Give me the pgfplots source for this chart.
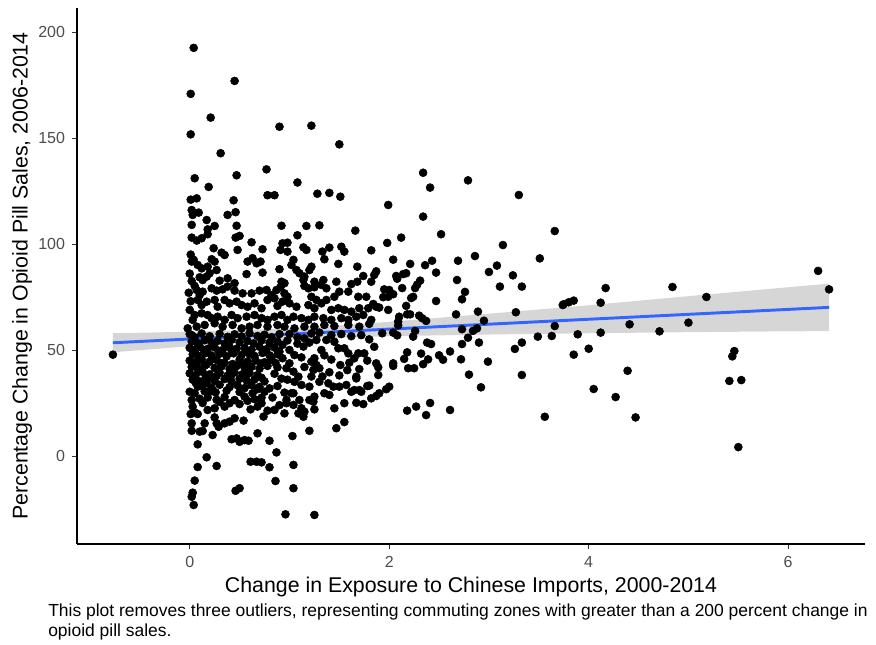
\documentclass[border=0pt]{standalone}
\usepackage{pgfplots}
\pgfplotsset{compat=1.18}
\usepackage{fontspec}
\setmainfont{Liberation Sans}
\definecolor{smoothblue}{HTML}{3366FF}
\definecolor{tickgray}{HTML}{4D4D4D}
\definecolor{bandgray}{HTML}{999999}
\pgfplotstableread{
x y
0.04 192.5
0.45 176.9
0.01 170.8
0.21 159.6
0.90 155.3
1.22 155.8
0.01 151.7
1.50 147.0
0.31 142.8
0.77 135.2
0.05 131.0
0.47 132.4
1.08 129.0
0.19 126.9
0.01 120.9
0.07 121.5
0.44 120.6
0.78 123.0
0.85 123.0
1.28 123.7
1.40 124.1
1.51 122.3
2.34 133.6
2.41 126.6
2.79 130.0
3.30 123.1
1.99 118.4
3.75 71.6
3.80 72.5
3.85 73.3
4.17 79.2
4.12 72.3
4.84 79.7
5.18 75.0
6.30 87.3
6.41 78.6
3.89 57.4
4.12 58.2
4.41 62.1
4.71 58.8
5.00 62.9
3.85 47.8
4.00 50.6
5.46 49.5
5.44 47.0
4.39 40.2
5.41 35.4
5.53 35.8
4.05 31.6
4.27 27.8
4.47 18.2
5.50 4.2
-0.77 47.8
2.34 112.9
3.66 106.1
2.52 104.6
2.12 103.0
1.98 100.5
3.14 99.5
1.82 97.0
2.86 94.3
3.51 93.2
2.04 92.6
2.43 92.1
2.36 90.0
2.69 92.1
2.21 90.6
3.08 89.8
3.00 86.8
2.47 86.5
3.24 85.2
2.17 86.2
2.14 85.8
2.07 84.9
1.87 87.1
1.85 85.4
1.82 82.2
2.68 83.0
2.31 82.7
2.28 80.8
2.26 79.2
3.11 79.9
3.33 79.9
2.08 83.6
2.13 79.2
1.95 78.6
2.00 78.3
2.04 76.3
1.94 74.9
1.99 75.1
2.76 77.4
2.73 73.9
2.24 75.1
2.22 74.5
2.47 73.1
1.84 71.7
1.87 70.4
1.90 70.0
2.17 70.8
3.74 71.2
1.99 68.9
2.89 68.1
3.27 67.8
2.18 66.8
2.21 66.8
2.67 66.8
2.30 66.2
2.33 65.0
2.37 63.7
2.10 65.7
2.09 63.4
1.82 64.2
2.95 63.8
3.66 61.3
2.09 61.6
2.26 59.0
2.24 56.3
2.73 59.8
2.84 59.0
2.88 60.2
1.93 57.9
2.04 58.2
2.08 56.9
3.49 56.3
3.63 56.6
2.79 55.8
2.38 53.5
2.42 52.8
2.73 52.8
2.90 53.5
3.33 53.5
3.26 50.5
2.18 48.9
2.32 48.3
2.61 49.3
2.15 45.8
2.39 45.6
2.50 47.5
2.54 45.4
2.72 45.6
2.99 44.5
1.87 43.7
2.04 43.7
2.34 43.3
1.89 41.8
1.89 38.2
2.04 42.5
2.19 41.4
2.25 41.4
2.80 38.4
3.33 38.2
2.92 32.4
2.00 32.7
1.97 31.5
1.90 29.6
1.87 28.3
1.82 27.2
1.80 33.2
2.18 21.4
2.27 23.3
2.41 25.0
2.37 19.3
2.61 21.7
3.56 18.5
0.04 -23.1
0.02 -19.2
0.03 -17.3
0.05 -11.6
0.08 -5.2
0.17 -0.6
0.27 -4.7
0.08 5.5
0.46 -16.4
0.50 -15.2
0.61 -2.7
0.67 -2.7
0.72 -3.0
0.80 -5.3
0.87 1.7
0.86 -11.8
1.04 -4.2
1.04 -15.2
0.96 -27.5
1.25 -27.8
0.80 7.2
0.68 10.7
1.03 9.4
1.20 11.9
1.47 13.1
1.55 16.0
0.42 7.9
0.47 8.3
0.50 6.7
0.55 7.5
0.59 7.2
0.23 9.9
0.02 11.9
0.10 11.5
0.13 11.8
0.02 15.4
0.15 15.4
0.27 15.4
0.29 13.8
0.35 15.4
0.40 16.2
0.45 17.8
0.54 16.7
0.74 18.6
0.25 18.2
0.01 19.8
0.05 20.6
0.08 19.8
1.51 42.9
1.67 37.4
1.57 33.5
1.65 31.1
1.72 30.3
1.78 33.0
1.67 25.1
1.74 24.5
1.45 22.5
1.25 22.0
1.24 25.6
1.15 20.9
1.09 20.1
1.12 22.5
0.85 21.7
0.78 21.4
0.97 26.4
1.02 29.6
0.95 29.9
0.61 22.0
0.68 23.3
0.72 24.9
0.55 28.0
0.63 29.6
0.75 30.3
0.80 31.9
0.45 26.4
0.40 24.9
0.35 23.3
0.18 21.7
0.25 22.5
0.03 23.3
0.02 26.4
0.05 29.6
0.00 30.3
0.08 32.7
0.17 34.3
0.20 30.3
0.93 52.4
1.00 50.0
1.05 47.6
1.14 51.6
1.15 55.5
1.27 54.7
1.32 50.0
1.37 54.7
1.45 53.9
1.49 50.8
1.55 50.8
1.59 48.4
1.65 46.1
1.69 48.4
1.75 48.4
1.25 46.1
1.22 44.5
1.27 42.9
1.30 41.4
1.24 40.6
0.93 46.1
0.97 41.4
1.04 39.8
1.00 43.7
1.09 37.4
1.05 35.0
1.12 33.5
1.20 32.7
1.30 35.0
1.39 34.3
1.44 32.7
1.50 32.7
1.67 36.6
1.62 30.3
1.70 31.1
1.35 29.6
1.40 28.8
1.25 28.0
1.04 29.6
0.97 24.9
1.04 24.1
1.10 26.4
1.20 26.4
0.95 20.1
1.14 18.5
1.55 24.9
0.02 116.0
0.09 114.8
0.03 113.7
0.38 113.7
0.46 115.0
0.17 111.3
0.02 109.0
0.25 108.5
0.18 106.9
0.47 108.6
0.92 108.6
1.17 108.5
1.30 108.8
1.66 106.3
0.18 104.6
0.02 103.0
0.07 101.6
0.12 102.7
0.46 103.0
0.50 103.8
1.08 104.1
0.62 100.8
0.93 100.3
0.98 100.6
0.24 98.0
0.48 97.2
0.73 97.5
0.91 97.2
0.98 96.4
1.14 98.4
1.17 97.2
1.40 98.3
1.33 96.4
1.52 98.7
1.55 96.4
0.32 95.9
0.35 94.8
1.35 92.8
0.02 91.7
0.04 92.5
0.22 92.8
0.25 91.7
0.58 91.7
0.63 93.3
0.67 90.9
0.71 91.7
1.04 92.5
1.49 90.6
0.08 90.1
0.12 88.5
0.18 89.3
0.27 87.7
0.20 86.2
0.17 84.6
0.90 88.1
1.02 90.1
1.07 87.7
1.10 86.2
1.15 84.6
1.20 87.7
1.22 89.3
1.68 89.3
0.57 85.8
0.73 86.5
0.10 84.3
0.13 83.0
0.30 82.7
0.38 83.8
0.45 81.5
0.92 82.2
0.95 81.5
1.14 83.0
1.25 82.2
1.34 83.0
1.47 82.2
1.62 81.1
1.68 82.2
1.74 84.9
0.05 80.2
0.07 78.3
0.10 75.9
0.13 77.5
0.22 79.1
0.27 78.0
0.33 78.6
0.38 79.9
0.45 78.0
0.53 76.7
0.62 76.7
0.70 78.0
0.77 78.3
0.82 75.9
0.87 78.3
0.91 79.6
0.95 76.7
0.98 75.1
1.15 80.2
1.19 79.1
1.25 79.6
1.32 80.7
1.37 79.1
1.45 75.1
1.50 77.5
1.59 77.5
1.69 75.1
1.77 75.1
1.22 75.1
1.27 73.6
1.32 72.0
1.37 73.6
0.08 73.6
0.12 71.2
0.17 72.8
0.25 73.6
0.28 70.4
0.35 73.6
0.40 72.0
0.47 72.8
0.52 71.2
0.58 70.4
0.65 72.0
0.72 69.7
0.78 73.6
0.85 74.4
0.88 70.8
0.93 72.8
1.00 72.0
1.07 70.4
1.19 71.2
1.25 69.7
1.42 68.9
1.49 69.7
1.55 68.9
1.62 68.1
1.70 69.7
1.79 69.7
0.00 68.9
0.05 66.5
0.03 64.2
0.12 67.3
0.18 66.5
0.22 65.0
0.28 65.7
0.35 64.2
0.42 66.5
0.48 65.0
0.57 65.7
0.65 66.5
0.72 65.0
0.78 64.2
0.85 65.7
0.92 66.5
0.98 64.2
1.04 65.7
1.12 65.0
1.19 64.2
1.25 65.7
1.34 65.0
1.42 64.2
1.52 65.0
1.59 64.2
1.67 65.7
1.74 66.5
-0.02 60.2
0.07 61.0
0.15 61.8
0.25 62.6
0.33 61.0
0.43 61.8
0.52 60.2
0.60 61.0
0.68 61.8
0.78 61.0
0.88 61.8
0.95 61.0
1.05 60.2
1.15 61.0
1.25 61.0
1.35 61.8
1.45 61.3
1.59 61.8
1.70 61.0
1.80 62.3
0.01 95.0
0.00 86.0
0.02 82.5
-0.01 77.0
0.01 73.0
0.02 57.0
0.00 57.5
0.05 56.0
0.12 57.8
0.20 56.5
0.30 57.6
0.38 56.2
0.45 57.4
0.52 56.4
0.60 57.9
0.68 56.6
0.75 57.2
0.82 56.0
0.90 57.5
0.02 54.0
0.08 53.2
0.15 54.6
0.22 53.5
0.28 54.3
0.35 53.0
0.42 54.8
0.50 53.6
0.58 54.2
0.64 53.1
0.72 54.5
0.80 53.4
0.88 54.0
0.00 51.0
0.06 50.2
0.10 51.6
0.18 50.5
0.25 51.2
0.33 50.0
0.40 51.4
0.47 50.6
0.55 51.0
0.62 50.1
0.70 51.5
0.77 50.4
0.85 51.1
0.03 48.0
0.09 47.2
0.16 48.5
0.22 47.4
0.30 48.2
0.37 47.0
0.44 48.4
0.52 47.6
0.60 48.1
0.65 47.2
0.73 48.6
0.80 47.5
0.88 48.0
0.00 45.0
0.05 44.2
0.12 45.6
0.20 44.5
0.27 45.3
0.35 44.0
0.50 45.4
0.58 44.6
0.66 45.1
0.75 44.2
0.82 45.5
0.02 42.0
0.08 41.2
0.15 42.6
0.25 41.5
0.32 42.3
0.40 41.0
0.47 42.4
0.55 41.6
0.62 42.1
0.70 41.2
0.78 42.5
0.88 41.8
0.00 39.0
0.06 38.2
0.13 39.6
0.20 38.5
0.30 39.3
0.38 38.0
0.45 39.4
0.53 38.6
0.60 39.1
0.68 38.2
0.85 38.8
0.03 36.0
0.10 35.2
0.18 36.6
0.25 35.5
0.35 36.3
0.42 35.0
0.50 36.4
0.57 35.6
0.65 36.1
0.75 35.2
0.92 36.5
0.12 33.0
0.22 32.2
0.30 33.6
0.40 32.5
0.48 33.3
0.55 32.0
0.62 33.4
0.70 32.6
0.10 27.0
0.18 27.6
0.27 26.5
0.35 27.8
0.65 26.8
0.72 27.5
1.00 57.5
1.08 56.0
1.22 57.8
1.30 58.2
1.42 57.0
1.52 57.5
1.62 56.5
1.72 57.0
1.80 55.0
0.98 54.5
1.08 53.0
1.20 53.5
1.85 51.5
1.78 45.0
1.60 44.0
1.42 45.5
1.35 47.5
1.12 46.5
1.15 42.0
1.40 39.5
1.50 38.0
1.58 40.5
1.70 41.0
1.33 37.5
1.22 37.5
0.98 36.0
0.04 49.5
0.14 50.0
0.29 49.6
0.42 49.8
0.58 49.4
0.74 49.9
0.90 49.2
0.07 43.5
0.17 43.2
0.31 43.8
0.43 43.4
0.54 43.1
0.71 43.6
0.86 43.9
0.04 37.4
0.16 37.0
0.27 37.8
0.41 37.2
0.56 37.6
0.72 36.9
0.88 33.0
0.06 34.5
0.15 30.5
0.26 30.0
0.37 30.8
0.50 30.2
0.68 31.5
0.13 25.0
0.30 25.5
0.50 24.5
0.58 26.0
0.83 27.6
0.90 24.0
}\pts
\begin{document}
\begin{tikzpicture}
\useasboundingbox (-57.75pt,-75.75pt) rectangle (599.25pt,408pt);
\begin{axis}[
  at={(0,0)}, anchor=south west,
  width=591pt, height=402pt, scale only axis,
  xmin=-1.13, xmax=6.77, ymin=-41.5, ymax=211.3,
  axis x line*=bottom, axis y line*=left,
  axis line style={black, line width=0.8pt, -},
  xtick={0,2,4,6}, ytick={0,50,100,150,200},
  tick style={black!80, line width=0.6pt}, tick align=outside,
  major tick length=3.5pt,
  ticklabel style={font=\fontsize{12}{14}\selectfont, text=tickgray},
  xticklabel style={yshift=-2.5pt},
  yticklabel style={xshift=-2pt},
  /pgf/number format/assume math mode=true,
  xlabel={Change in Exposure to Chinese Imports, 2000-2014},
  ylabel={Percentage Change in Opioid Pill Sales, 2006-2014},
  label style={font=\fontsize{16}{19}\selectfont},
  xlabel style={at={(axis description cs:0.5,0)}, anchor=center, yshift=-32pt},
  ylabel style={at={(axis description cs:0,0.5)}, anchor=center, yshift=41.25pt},
  clip=true,
]
\addplot[only marks, mark=*, mark size=3pt, black] table[x=x, y=y] {\pts};
\addplot[draw=none, fill=bandgray, fill opacity=0.4] coordinates {
(-0.77,57.9) (0,58.6) (0.5,59.3) (1,60.3) (1.5,61.6) (2,63.3) (3,67.1) (4,71.1) (5,75.4) (6,79.6) (6.41,81.3)
(6.41,58.9) (6,58.8) (5,58.4) (4,57.9) (3,57.3) (2,56.5) (1.5,55.8) (1,54.8) (0.5,53.5) (0,51.8) (-0.77,48.9)};
\addplot[smoothblue, line width=2.2pt] coordinates {(-0.77,53.4) (6.41,70.1)};
\end{axis}
\node[anchor=base west, align=left, font=\fontsize{13.1}{15}\selectfont, inner sep=0pt] at (-21.75pt,-69.75pt)
  {This plot removes three outliers, representing commuting zones with greater than a 200 percent change in\\opioid pill sales.};
\end{tikzpicture}
\end{document}
